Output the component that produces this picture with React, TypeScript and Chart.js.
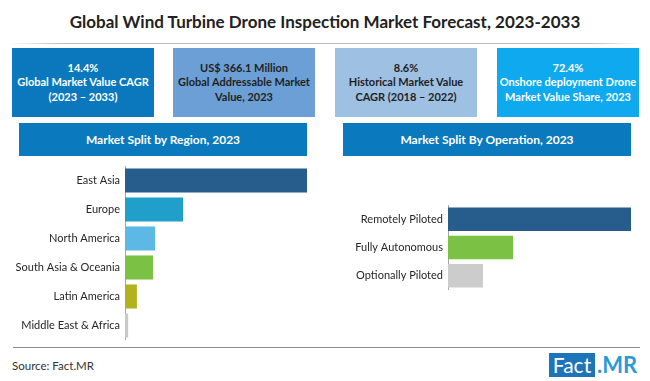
import React, { useEffect, useRef } from "react";
import { Chart, registerables } from "chart.js";

Chart.register(...registerables);

const titleText = "Global Wind Turbine Drone Inspection Market Forecast, 2023-2033";

const statValues = ["14.4%", "US$ 366.1 Million", "8.6%", "72.4%"];
const statLine2 = ["Global Market Value CAGR", "Global Addressable Market", "Historical Market Value", "Onshore deployment Drone"];
const statLine3 = ["(2023 \u2013 2033)", "Value, 2023", "CAGR (2018 \u2013 2022)", "Market Value Share, 2023"];

const regionTitle = "Market Split by Region, 2023";
const regionLabels = ["East Asia", "Europe", "North America", "South Asia & Oceania", "Latin America", "Middle East & Africa"];
const regionValues = [52.0, 16.6, 8.6, 8.0, 3.4, 0.9];

const operationTitle = "Market Split By Operation, 2023";
const operationLabels = ["Remotely Piloted", "Fully Autonomous", "Optionally Piloted"];
const operationValues = [56.0, 19.9, 10.7];

const sourceText = "Source: Fact.MR";

const regionColors = ["#275d8c", "#1f9fc9", "#5cb9e6", "#7bc143", "#b2b11f", "#c9c9c9"];
const operationColors = ["#275d8c", "#7bc143", "#cccccc"];
const statBg = ["#0b78bd", "#6c9fd5", "#9ec0e3", "#0ea9ee"];
const statFg = ["#ffffff", "#1f1f1f", "#1f1f1f", "#ffffff"];
const statLefts = [12, 173, 335, 497];

type BarProps = {
  labels: string[];
  values: number[];
  colors: string[];
  yWidth: number;
  width: number;
  height: number;
  left: number;
  top: number;
};

function HBar({ labels, values, colors, yWidth, width, height, left, top }: BarProps) {
  const ref = useRef<HTMLCanvasElement | null>(null);
  useEffect(() => {
    if (!ref.current) return;
    const chart = new Chart(ref.current, {
      type: "bar",
      data: {
        labels,
        datasets: [
          {
            data: values,
            backgroundColor: colors,
            borderWidth: 0,
            categoryPercentage: 1,
            barPercentage: 0.83,
          },
        ],
      },
      options: {
        indexAxis: "y",
        animation: false,
        responsive: false,
        maintainAspectRatio: false,
        devicePixelRatio: 1,
        layout: { padding: 0 },
        plugins: { legend: { display: false }, tooltip: { enabled: false } },
        scales: {
          x: { display: false, min: 0, max: Math.max(...values) },
          y: {
            grid: { display: false, drawTicks: false },
            border: { display: true, color: "#a6a6a6", width: 1 },
            ticks: {
              color: "#262626",
              font: { family: "Lato", size: 11 },
              padding: 5,
            },
            afterFit: (s: any) => {
              s.width = yWidth;
              s.paddingTop = 0;
              s.paddingBottom = 0;
            },
          },
        },
      } as any,
    });
    return () => chart.destroy();
  }, []);
  return (
    <canvas
      ref={ref}
      width={width}
      height={height}
      style={{ position: "absolute", left, top, width, height }}
    />
  );
}

export default function App() {
  const font = "Lato, 'Open Sans', sans-serif";
  return (
    <div
      style={{
        position: "fixed",
        left: 0,
        top: 0,
        width: 650,
        height: 381,
        background: "#ffffff",
        overflow: "hidden",
        fontFamily: font,
      }}
    >
      <div
        style={{
          position: "absolute",
          left: 0,
          top: 12,
          width: 650,
          height: 20,
          lineHeight: "20px",
          textAlign: "center",
          fontWeight: 700,
          fontSize: 17,
          color: "#222222",
        }}
      >
        {titleText}
      </div>
      <div
        style={{
          position: "absolute",
          left: 10,
          top: 43,
          width: 630,
          height: 1,
          background: "linear-gradient(to right, rgba(190,190,190,0), #bdbdbd 8%, #bdbdbd 92%, rgba(190,190,190,0))",
        }}
      />
      {statValues.map((v, i) => (
        <div
          key={i}
          style={{
            position: "absolute",
            left: statLefts[i],
            top: 48,
            width: 142,
            height: 69,
            background: statBg[i],
            color: statFg[i],
            display: "flex",
            flexDirection: "column",
            alignItems: "center",
            justifyContent: "center",
            fontWeight: 700,
            fontSize: 11,
            lineHeight: "14.5px",
            textAlign: "center",
            whiteSpace: "nowrap",
          }}
        >
          <div>{v}</div>
          <div>{statLine2[i]}</div>
          <div>{statLine3[i]}</div>
        </div>
      ))}
      {[
        { t: regionTitle, l: 19 },
        { t: operationTitle, l: 343 },
      ].map((h, i) => (
        <div
          key={i}
          style={{
            position: "absolute",
            left: h.l,
            top: 123,
            width: 288,
            height: 33,
            lineHeight: "33px",
            background: "#0b79bd",
            color: "#ffffff",
            fontWeight: 700,
            fontSize: 12,
            textAlign: "center",
          }}
        >
          {h.t}
        </div>
      ))}
      <HBar
        labels={regionLabels}
        values={regionValues}
        colors={regionColors}
        yWidth={125}
        width={307}
        height={174}
        left={0}
        top={166}
      />
      <HBar
        labels={operationLabels}
        values={operationValues}
        colors={operationColors}
        yWidth={118}
        width={301}
        height={85}
        left={330}
        top={205}
      />
      <div
        style={{
          position: "absolute",
          left: 13,
          top: 347,
          width: 627,
          height: 1,
          background: "#8c8c8c",
        }}
      />
      <div
        style={{
          position: "absolute",
          left: 12,
          top: 359,
          fontSize: 11.5,
          lineHeight: "14px",
          color: "#333333",
        }}
      >
        {sourceText}
      </div>
      <div
        style={{
          position: "absolute",
          left: 549,
          top: 353,
          width: 46,
          height: 24,
          lineHeight: "24px",
          background: "#1e74b8",
          color: "#ffffff",
          fontSize: 21,
          textAlign: "center",
        }}
      >
        Fact
      </div>
      <div
        style={{
          position: "absolute",
          left: 597,
          top: 353,
          height: 24,
          lineHeight: "24px",
          color: "#2a9bd7",
          fontSize: 22,
          fontWeight: 700,
        }}
      >
        .MR
      </div>
    </div>
  );
}
